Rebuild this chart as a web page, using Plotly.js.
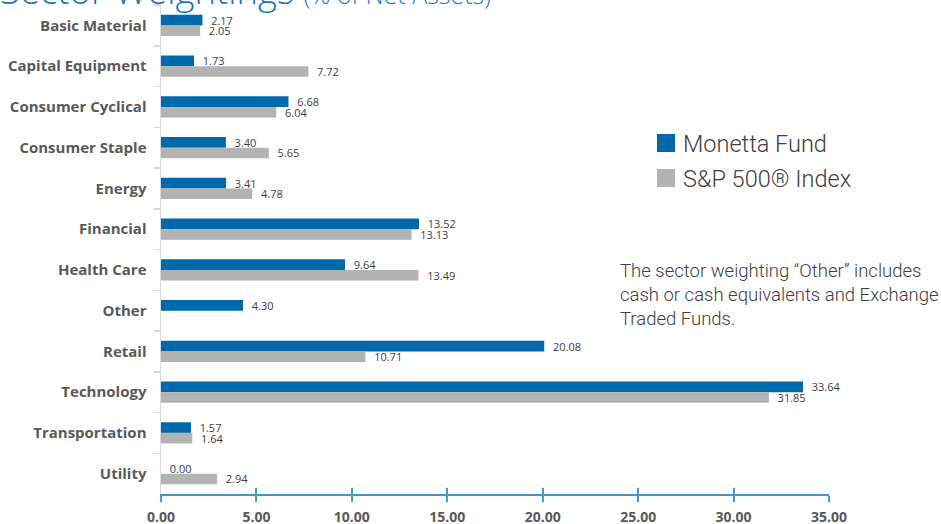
<!DOCTYPE html>
<html>
<head>
<meta charset="utf-8">
<script src="https://cdn.plot.ly/plotly-3.0.1.min.js"></script>
<style>html,body{margin:0;padding:0;background:#fff;}#chart{width:941px;height:524px;}</style>
</head>
<body>
<div id="chart"></div>
<script>
const categories = ["Basic Material","Capital Equipment","Consumer Cyclical","Consumer Staple","Energy","Financial","Health Care","Other","Retail","Technology","Transportation","Utility"];
const monettaFund = [2.17,1.73,6.68,3.40,3.41,13.52,9.64,4.30,20.08,33.64,1.57,0.00];
const sp500Index = [2.05,7.72,6.04,5.65,4.78,13.13,13.49,null,10.71,31.85,1.64,2.94];
const xTickValues = [0,5,10,15,20,25,30,35];
const seriesNames = ["Monetta Fund","S&amp;P 500® Index"];

const BLUE = "#0069ab";
const GRAY = "#b3b3b3";
const AXISBLUE = "#3a9ad9";

const common = {
  type: "bar", orientation: "h", y: categories,
  texttemplate: "\u00a0\u00a0%{x:.2f}", textposition: "outside", cliponaxis: false,
  constraintext: "none",
  textfont: {family: "Open Sans", size: 11, color: "#404040"},
  hoverinfo: "skip", showlegend: false
};
const traces = [
  Object.assign({}, common, {x: monettaFund, name: "Monetta Fund", marker: {color: BLUE}}),
  Object.assign({}, common, {x: sp500Index, name: "S&P 500® Index", marker: {color: GRAY}}),
  {type: "scatter", x: [], y: [], xaxis: "x2", yaxis: "y", showlegend: false, hoverinfo: "skip"}
];

// plot area in pixels: x 161..829, y 5..494
const px = v => (v - 161) / 668;
const py = v => (494 - v) / 489;

const layout = {
  width: 941, height: 524,
  margin: {l: 161, r: 112, t: 5, b: 30, pad: 0},
  paper_bgcolor: "#fff", plot_bgcolor: "#fff",
  barmode: "group", bargap: 0.48, bargroupgap: 0,
  xaxis: {
    range: [0, 35], tickvals: xTickValues, tickformat: ".2f",
    showgrid: false, zeroline: false,
    showline: true, linecolor: AXISBLUE, linewidth: 2,
    ticks: "outside", ticklen: 6, tickwidth: 2, tickcolor: AXISBLUE,
    tickfont: {family: "Open Sans", size: 14, color: "#595959", weight: 700},
    ticklabelstandoff: 3
  },
  xaxis2: {
    overlaying: "x", matches: "x", anchor: "y", side: "bottom",
    range: [0, 35], tickvals: xTickValues,
    showgrid: false, zeroline: false, showline: false,
    ticks: "inside", ticklen: 6, tickwidth: 2, tickcolor: AXISBLUE,
    showticklabels: false
  },
  yaxis: {
    type: "category", autorange: "reversed",
    showgrid: false, zeroline: false,
    showline: true, linecolor: "#d9d9d9", linewidth: 1.5,
    ticks: "outside", tickson: "boundaries", ticklen: 6, tickcolor: "#d9d9d9", tickwidth: 1.5,
    tickfont: {family: "Open Sans", size: 15, color: "#595959", weight: 700},
    ticklabelstandoff: 10
  },
  shapes: [
    {type: "rect", xref: "paper", yref: "paper", x0: px(657), x1: px(675), y0: py(152), y1: py(134), fillcolor: BLUE, line: {width: 0}},
    {type: "rect", xref: "paper", yref: "paper", x0: px(657), x1: px(675), y0: py(187), y1: py(169), fillcolor: GRAY, line: {width: 0}}
  ],
  annotations: [
    {xref: "paper", yref: "paper", x: px(681), y: py(144), xanchor: "left", yanchor: "middle", showarrow: false,
     text: seriesNames[0], font: {family: "Roboto", size: 23.5, color: "#404040", weight: 300}},
    {xref: "paper", yref: "paper", x: px(681), y: py(179), xanchor: "left", yanchor: "middle", showarrow: false,
     text: seriesNames[1], font: {family: "Roboto", size: 23.5, color: "#404040", weight: 300}},
    {xref: "paper", yref: "paper", x: px(618), y: py(295), xanchor: "left", yanchor: "middle", align: "left", showarrow: false,
     text: "The sector weighting “Other” includes<br>cash or cash equivalents and Exchange<br>Traded Funds.",
     font: {family: "Roboto", size: 18.5, color: "#404040", weight: 300}},
    {xref: "paper", yref: "paper", x: px(-2), y: py(17), xanchor: "left", yanchor: "bottom", showarrow: false,
     text: "Sector Weightings <span style='font-size:25px'>(% of Net Assets)</span>",
     font: {family: "Open Sans", size: 36.5, color: "#1b75bb", weight: 300}}
  ]
};

Plotly.newPlot("chart", traces, layout, {displayModeBar: false, staticPlot: true});
</script>
</body>
</html>
